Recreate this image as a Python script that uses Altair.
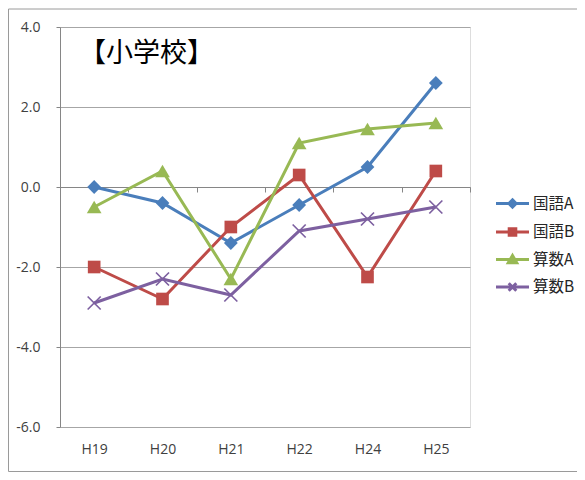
import altair as alt
import pandas as pd

YEARS = ["H19", "H20", "H21", "H22", "H24", "H25"]
SERIES = ["国語A", "国語B", "算数A", "算数B"]
KOKUGO_A = [0.0, -0.4, -1.4, -0.45, 0.5, 2.6]
KOKUGO_B = [-2.0, -2.8, -1.0, 0.3, -2.25, 0.4]
SANSU_A = [-0.5, 0.4, -2.3, 1.1, 1.45, 1.6]
SANSU_B = [-2.9, -2.3, -2.7, -1.1, -0.8, -0.5]
TITLE = ["【小学校】"]
Y_TICKS = [-6, -4, -2, 0, 2, 4]

COLORS = ["#4A7EBB", "#BE4B48", "#98B954", "#7D60A0"]
PLOT_SHAPES = ["diamond", "square", "triangle-up", "M-1,-1L1,1M-1,1L1,-1"]
PLOT_SIZES = [190, 160, 215, 170]
LEGEND_PATHS = [
    "M-1.65,0H1.65M0,-0.36L0.36,0L0,0.36L-0.36,0Z",
    "M-1.65,0H1.65M-0.33,-0.33H0.33V0.33H-0.33Z",
    "M-1.65,0H1.65M0,-0.4L0.42,0.32L-0.42,0.32Z",
    "M-1.65,0H1.65M-0.38,-0.38L0.38,0.38M-0.38,0.38L0.38,-0.38",
]

values = [KOKUGO_A, KOKUGO_B, SANSU_A, SANSU_B]
rows = []
for s, vals in zip(SERIES, values):
    for y, v in zip(YEARS, vals):
        rows.append({"series": s, "year": y, "value": v})
df = pd.DataFrame(rows)

LABEL_FONT = "Open Sans"
AX_COLOR = "#868686"

x_enc = alt.X(
    "year:N",
    sort=YEARS,
    scale=alt.Scale(type="band", domain=YEARS, paddingInner=0, paddingOuter=0),
    axis=alt.Axis(
        title=None,
        offset=-240,
        domainColor=AX_COLOR,
        tickColor=AX_COLOR,
        tickSize=5,
        tickBand="extent",
        labelPadding=257,
        labelBaseline="middle",
        labelFont=LABEL_FONT,
        labelFontSize=14,
        labelColor="#404040",
        labelAngle=0,
        grid=False,
    ),
)
y_enc = alt.Y(
    "value:Q",
    scale=alt.Scale(domain=[-6, 4], nice=False, zero=False),
    axis=alt.Axis(
        title=None,
        values=Y_TICKS,
        format=".1f",
        labelExpr="replace(datum.label, '\u2212', '-')",
        grid=True,
        gridColor="#a6a6a6",
        gridWidth=1,
        domainColor=AX_COLOR,
        tickColor=AX_COLOR,
        tickSize=4,
        labelPadding=16,
        labelFont=LABEL_FONT,
        labelFontSize=14,
        labelColor="#404040",
    ),
)

FRAME = "#9a9a9a"
frame_data = alt.Data(values=[{}])
frame_top = alt.Chart(frame_data).mark_rule(color=FRAME, strokeWidth=1).encode(
    x=alt.value(-51.5), x2=alt.value(600), y=alt.value(-18)
)
frame_left = alt.Chart(frame_data).mark_rule(color=FRAME, strokeWidth=1).encode(
    x=alt.value(-51.5), y=alt.value(-18), y2=alt.value(444.5)
)
frame_bottom = alt.Chart(frame_data).mark_rule(color=FRAME, strokeWidth=1).encode(
    x=alt.value(-51.5), x2=alt.value(600), y=alt.value(444.5)
)

title = alt.Chart(pd.DataFrame({"t": TITLE})).mark_text(
    font="Noto Sans CJK JP", fontSize=27, align="left", baseline="middle", color="#000000"
).encode(x=alt.value(19), y=alt.value(27), text="t:N")

layers = [frame_top, frame_left, frame_bottom, title]
for i, s in enumerate(SERIES):
    base = alt.Chart(df).transform_filter(alt.datum.series == s)
    line = base.mark_line(strokeWidth=3, color=COLORS[i]).encode(x=x_enc, y=y_enc)
    filled = i < 3
    pt = base.mark_point(
        shape=PLOT_SHAPES[i], size=PLOT_SIZES[i], filled=filled,
        strokeWidth=1.7, opacity=1, color=COLORS[i],
    ).encode(x=x_enc, y=y_enc)
    layers += [line, pt]

leg = dict(
    title=None,
    orient="none",
    legendX=441,
    legendY=165,
    symbolSize=400,
    symbolStrokeWidth=3,
    symbolOpacity=1,
    labelFont="Noto Sans CJK JP",
    labelFontSize=15.5,
    labelColor="#262626",
    labelOffset=9,
    rowPadding=6.5,
    padding=0,
)
legend_layer = alt.Chart(alt.Data(values=[{"series": s} for s in SERIES])).mark_point(
    filled=True, opacity=1
).encode(
    x=x_enc, y=y_enc,
    fill=alt.Fill("series:N", scale=alt.Scale(domain=SERIES, range=COLORS), legend=alt.Legend(**leg)),
    stroke=alt.Stroke("series:N", scale=alt.Scale(domain=SERIES, range=COLORS), legend=alt.Legend(**leg)),
    shape=alt.Shape("series:N", scale=alt.Scale(domain=SERIES, range=LEGEND_PATHS), legend=alt.Legend(**leg)),
)
layers.append(legend_layer)

chart = alt.layer(*layers).properties(
    width=410,
    height=400,
    padding={"left": 52, "top": 19, "right": 107, "bottom": 45},
    autosize=alt.AutoSizeParams(type="none"),
).configure_view(stroke=None).configure(background="white")

chart.save("out.html", embed_options={"renderer": "svg", "actions": False})
